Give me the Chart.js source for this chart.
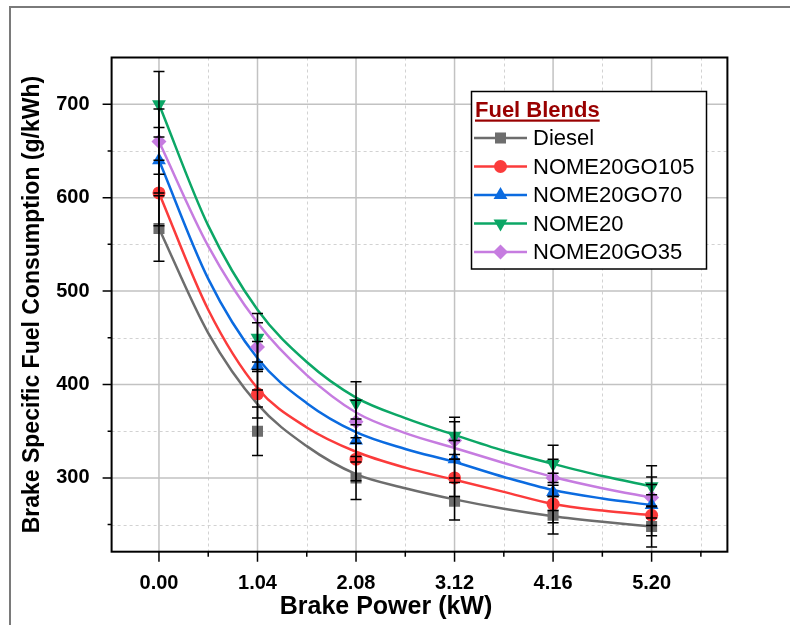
<!DOCTYPE html>
<html>
<head>
<meta charset="utf-8">
<title>Brake Specific Fuel Consumption</title>
<script src="https://cdn.jsdelivr.net/npm/chart.js@4.4.0/dist/chart.umd.min.js"></script>
<style>
  html, body { margin: 0; padding: 0; background: #fff; }
</style>
</head>
<body>
<canvas id="bsfcChart" width="790" height="625"></canvas>
<script>
// load steps (kW) and axis ticks
const powerKW = [0, 1.04, 2.08, 3.12, 4.16, 5.20];
const xTickLabels = ["0.00", "1.04", "2.08", "3.12", "4.16", "5.20"];
const xMinorTicks = [0.52, 1.56, 2.60, 3.64, 4.68, 5.72];
const yTickValues = [300, 400, 500, 600, 700];
const yMinorTicks = [250, 350, 450, 550, 650];

// measured BSFC (g/kWh)
const bsfcDiesel = [567, 350, 300, 275, 260, 248];
const bsfcGO105 = [605, 390, 320, 300, 272, 260];
const bsfcGO70 = [640, 420, 340, 320, 285, 271];
const bsfcNOME20 = [700, 450, 380, 345, 315, 291];
const bsfcGO35 = [660, 440, 360, 340, 300, 279];

// error bar half height at each load
const bsfcError = [35, 26, 23, 20, 20, 22];

// fitted trend curves, sampled every 0.52 kW
const fitPower = [0, 0.52, 1.04, 1.56, 2.08, 2.60, 3.12, 3.64, 4.16, 4.68, 5.20];
const fitDiesel = [567, 455, 379, 334, 304, 289, 277, 267, 259, 253, 248];
const fitGO105 = [605, 480, 396, 354, 328, 311, 298, 285, 272, 265, 260];
const fitGO70 = [640, 513, 428, 380, 349, 331, 317, 301, 287, 278, 271];
const fitNOME20 = [700, 570, 480, 424, 386, 364, 346, 329, 315, 302, 291];
const fitGO35 = [660, 548, 466, 410, 370, 348, 332, 316, 301, 289, 279];

const FONT = "'Liberation Sans', Arial, sans-serif";

const blends = [
    { label: "Diesel", color: "#6d6d6d", style: "rect", radius: 7.8, rotation: 0, values: bsfcDiesel, fit: fitDiesel },
    { label: "NOME20GO105", color: "#fb3b3b", style: "circle", radius: 6.5, rotation: 0, values: bsfcGO105, fit: fitGO105 },
    { label: "NOME20GO70", color: "#0b6be0", style: "triangle", radius: 8, rotation: 0, values: bsfcGO70, fit: fitGO70 },
    { label: "NOME20", color: "#0ca766", style: "triangle", radius: 8, rotation: 180, values: bsfcNOME20, fit: fitNOME20 },
    { label: "NOME20GO35", color: "#c67ce0", style: "rectRot", radius: 7.5, rotation: 0, values: bsfcGO35, fit: fitGO35 },
];

let datasets = [];
blends.forEach(function (b) {
    datasets.push({
        label: b.label + " fit",
        data: fitPower.map((x, i) => ({ x: x, y: b.fit[i] })),
        showLine: true,
        borderColor: b.color,
        borderWidth: 2.5,
        pointRadius: 0,
        cubicInterpolationMode: "monotone",
        order: 2,
    });
    datasets.push({
        label: b.label,
        data: powerKW.map((x, i) => ({ x: x, y: b.values[i] })),
        showLine: false,
        pointStyle: b.style,
        pointRadius: b.radius,
        pointRotation: b.rotation,
        backgroundColor: b.color,
        borderColor: b.color,
        borderWidth: 0,
        errors: bsfcError,
        isMarker: true,
        order: 1,
    });
});

function drawMarker(ctx, style, radius, rotation, x, y, color) {
    ctx.save();
    ctx.fillStyle = color;
    ctx.strokeStyle = color;
    if (Chart.helpers && Chart.helpers.drawPoint) {
        Chart.helpers.drawPoint(ctx, { pointStyle: style, radius: radius, rotation: rotation, borderWidth: 0 }, x, y);
    } else {
        ctx.beginPath();
        ctx.arc(x, y, radius, 0, Math.PI * 2);
        ctx.fill();
    }
    ctx.restore();
}

const framePlugin = {
    id: "frame",
    beforeDraw(chart) {
        const ctx = chart.ctx;
        ctx.save();
        ctx.fillStyle = "#ffffff";
        ctx.fillRect(0, 0, chart.width, chart.height);
        // outer panel edge
        ctx.strokeStyle = "#7a7a7a";
        ctx.lineWidth = 2;
        ctx.beginPath();
        ctx.moveTo(10, chart.height);
        ctx.lineTo(10, 7);
        ctx.lineTo(chart.width, 7);
        ctx.stroke();
        ctx.restore();
    },
    beforeDatasetsDraw(chart) {
        const ctx = chart.ctx;
        const a = chart.chartArea;
        const xs = chart.scales.x;
        const ys = chart.scales.y;
        ctx.save();
        // minor grid, dashed
        ctx.strokeStyle = "#d2d2d2";
        ctx.lineWidth = 1;
        ctx.setLineDash([3, 3]);
        ctx.beginPath();
        xMinorTicks.forEach(function (v) {
            const px = Math.round(xs.getPixelForValue(v)) + 0.5;
            ctx.moveTo(px, a.top);
            ctx.lineTo(px, a.bottom);
        });
        yMinorTicks.forEach(function (v) {
            const py = Math.round(ys.getPixelForValue(v)) + 0.5;
            ctx.moveTo(a.left, py);
            ctx.lineTo(a.right, py);
        });
        ctx.stroke();
        // major grid
        ctx.setLineDash([]);
        ctx.strokeStyle = "#c2c2c2";
        ctx.lineWidth = 1.5;
        ctx.beginPath();
        powerKW.forEach(function (v) {
            const px = xs.getPixelForValue(v);
            ctx.moveTo(px, a.top);
            ctx.lineTo(px, a.bottom);
        });
        yTickValues.forEach(function (v) {
            const py = ys.getPixelForValue(v);
            ctx.moveTo(a.left, py);
            ctx.lineTo(a.right, py);
        });
        ctx.stroke();
        ctx.restore();
    },
    afterDatasetsDraw(chart) {
        const ctx = chart.ctx;
        const a = chart.chartArea;
        const xs = chart.scales.x;
        const ys = chart.scales.y;
        ctx.save();

        // error bars
        ctx.strokeStyle = "#000000";
        ctx.lineWidth = 1.5;
        chart.data.datasets.forEach(function (ds) {
            if (!ds.isMarker) return;
            ds.data.forEach(function (p, i) {
                const px = xs.getPixelForValue(p.x);
                const top = ys.getPixelForValue(p.y + ds.errors[i]);
                const bot = ys.getPixelForValue(p.y - ds.errors[i]);
                ctx.beginPath();
                ctx.moveTo(px, top);
                ctx.lineTo(px, bot);
                ctx.moveTo(px - 5.5, top);
                ctx.lineTo(px + 5.5, top);
                ctx.moveTo(px - 5.5, bot);
                ctx.lineTo(px + 5.5, bot);
                ctx.stroke();
            });
        });

        // plot box
        ctx.lineWidth = 2;
        ctx.strokeRect(a.left, a.top, a.right - a.left, a.bottom - a.top);

        // tick marks, outward
        ctx.lineWidth = 1.5;
        ctx.beginPath();
        powerKW.forEach(function (v) {
            const px = xs.getPixelForValue(v);
            ctx.moveTo(px, a.bottom);
            ctx.lineTo(px, a.bottom + 10);
        });
        xMinorTicks.forEach(function (v) {
            const px = xs.getPixelForValue(v);
            ctx.moveTo(px, a.bottom);
            ctx.lineTo(px, a.bottom + 5);
        });
        yTickValues.forEach(function (v) {
            const py = ys.getPixelForValue(v);
            ctx.moveTo(a.left, py);
            ctx.lineTo(a.left - 9, py);
        });
        yMinorTicks.forEach(function (v) {
            const py = ys.getPixelForValue(v);
            ctx.moveTo(a.left, py);
            ctx.lineTo(a.left - 4, py);
        });
        ctx.stroke();

        // x axis title
        ctx.fillStyle = "#000000";
        ctx.font = "bold 25px " + FONT;
        ctx.textAlign = "center";
        ctx.textBaseline = "middle";
        ctx.fillText("Brake Power (kW)", 386, 607);

        // legend
        const lx = 471.5, ly = 91.5, lw = 235, lh = 177.5;
        ctx.fillStyle = "#ffffff";
        ctx.fillRect(lx, ly, lw, lh);
        ctx.strokeStyle = "#000000";
        ctx.lineWidth = 1.5;
        ctx.strokeRect(lx, ly, lw, lh);

        ctx.textAlign = "left";
        ctx.textBaseline = "alphabetic";
        ctx.fillStyle = "#990000";
        ctx.font = "bold 22px " + FONT;
        ctx.fillText("Fuel Blends", 475, 116.5);
        const tw = ctx.measureText("Fuel Blends").width;
        ctx.fillRect(475, 119.5, tw, 2.2);

        ctx.font = "22px " + FONT;
        ctx.textBaseline = "middle";
        let row = 0;
        chart.data.datasets.forEach(function (ds) {
            if (!ds.isMarker) return;
            const cy = 138 + row * 28.5;
            ctx.strokeStyle = ds.borderColor;
            ctx.lineWidth = 2.5;
            ctx.beginPath();
            ctx.moveTo(474, cy);
            ctx.lineTo(527, cy);
            ctx.stroke();
            drawMarker(ctx, ds.pointStyle, ds.pointRadius, ds.pointRotation, 500.5, cy, ds.backgroundColor);
            ctx.fillStyle = "#000000";
            ctx.fillText(ds.label, 533, cy + 1);
            row++;
        });
        ctx.restore();
    },
};

const ctx = document.getElementById("bsfcChart").getContext("2d");
const bsfcChart = new Chart(ctx, {
    type: "scatter",
    data: { datasets: datasets },
    options: {
        responsive: false,
        animation: false,
        events: [],
        layout: { padding: { left: 10, top: 57.5, right: 62.6, bottom: 0 } },
        plugins: {
            legend: { display: false },
            tooltip: { enabled: false },
        },
        scales: {
            x: {
                type: "linear",
                min: -0.5,
                max: 6.0,
                afterBuildTicks: function (scale) {
                    scale.ticks = powerKW.map((v) => ({ value: v }));
                },
                afterFit: function (scale) {
                    scale.height = 73.3;
                },
                grid: { display: false },
                border: { display: false },
                ticks: {
                    autoSkip: false,
                    maxRotation: 0,
                    padding: 12,
                    color: "#000000",
                    font: { family: FONT, size: 20, weight: "bold" },
                    callback: function (value, index) {
                        return xTickLabels[index];
                    },
                },
            },
            y: {
                type: "linear",
                min: 221,
                max: 750,
                afterBuildTicks: function (scale) {
                    scale.ticks = yTickValues.map((v) => ({ value: v }));
                },
                afterFit: function (scale) {
                    scale.width = 101.6;
                },
                grid: { display: false },
                border: { display: false },
                ticks: {
                    padding: 14,
                    color: "#000000",
                    font: { family: FONT, size: 20, weight: "bold" },
                },
                title: {
                    display: true,
                    text: "Brake Specific Fuel Consumption (g/kWh)",
                    color: "#000000",
                    font: { family: FONT, size: 23, weight: "bold" },
                    padding: { top: 9, bottom: 0 },
                },
            },
        },
    },
    plugins: [framePlugin],
});
</script>
</body>
</html>
